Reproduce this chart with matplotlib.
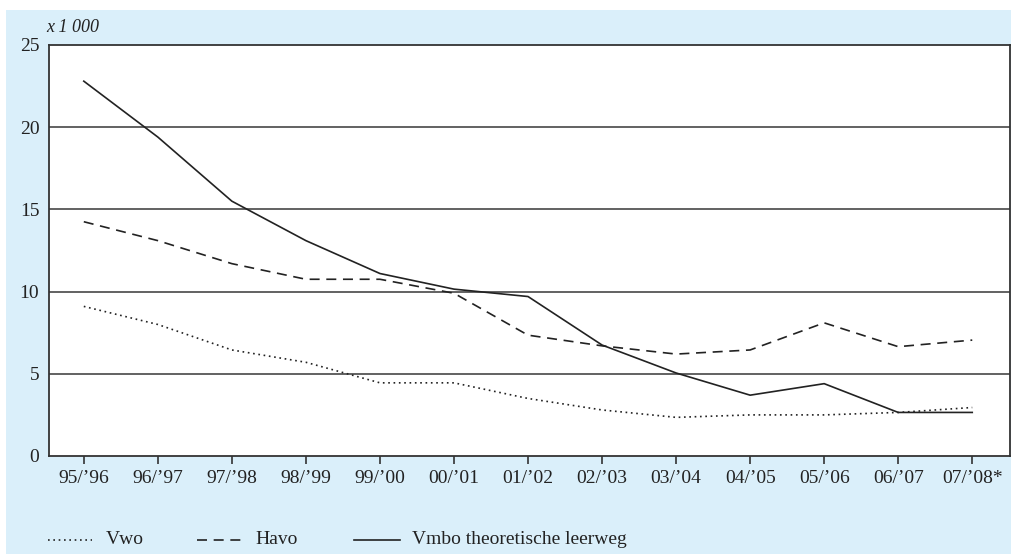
import matplotlib
matplotlib.use("Agg")
import matplotlib.pyplot as plt
from matplotlib.lines import Line2D
from matplotlib.patches import Rectangle

years = ["95/\u201996", "96/\u201997", "97/\u201998", "98/\u201999", "99/\u201900", "00/\u201901",
         "01/\u201902", "02/\u201903", "03/\u201904", "04/\u201905", "05/\u201906", "06/\u201907",
         "07/\u201908*"]
vwo = [9.1, 8.0, 6.45, 5.7, 4.45, 4.45, 3.5, 2.8, 2.35, 2.5, 2.5, 2.65, 2.95]
havo = [14.25, 13.1, 11.7, 10.75, 10.75, 9.9, 7.35, 6.7, 6.2, 6.45, 8.1, 6.65, 7.05]
vmbo = [22.8, 19.4, 15.5, 13.1, 11.1, 10.15, 9.7, 6.75, 5.05, 3.7, 4.4, 2.65, 2.65]
yticks = [0, 5, 10, 15, 20, 25]
series_names = ["Vwo", "Havo", "Vmbo theoretische leerweg"]

plt.rcParams["font.family"] = ["Liberation Serif", "DejaVu Serif"]
W, H = 1011, 554
fig = plt.figure(figsize=(W / 100, H / 100), dpi=100)
fig.patch.set_facecolor("white")
bg = "#daeffa"
fig.add_artist(Rectangle((6 / W, 0), 1 - 6 / W, (H - 10) / H, transform=fig.transFigure,
                         facecolor=bg, edgecolor="none", zorder=0))

ax = fig.add_axes([49 / W, (H - 456) / H, 961 / W, 411 / H])
ax.set_facecolor("white")
x = list(range(len(years)))
lc = "#222222"
ax.plot(x, vwo, color=lc, lw=1.2, linestyle=(0, (1, 2.2)), zorder=3)
ax.plot(x, havo, color=lc, lw=1.2, linestyle=(0, (6, 4)), zorder=3)
ax.plot(x, vmbo, color=lc, lw=1.2, linestyle="-", zorder=3)

ax.set_xlim(-0.47, 12.51)
ax.set_ylim(0, 25)
ax.set_yticks(yticks)
ax.set_yticklabels([str(v) for v in yticks], fontsize=14, color="#222222")
ax.tick_params(axis="y", length=0, pad=7)
ax.set_xticks(x)
ax.set_xticklabels(years, fontsize=14, color="#222222")
ax.tick_params(axis="x", direction="out", length=6, width=1.2, color="#333333", pad=4)
for v in yticks[1:-1]:
    ax.axhline(v, color="#555555", lw=1.3, zorder=1)
for s in ax.spines.values():
    s.set_color("#333333")
    s.set_linewidth(1.3)

fig.text(46 / W, 1 - 28 / H, "x 1 000", fontsize=13, style="italic", color="#222222",
         va="center", ha="left")

# legend
ly = 1 - 540 / H
items = [((48, 92), (0, (1, 2.2)), 106), ((197, 241), (0, (6, 4)), 255), ((354, 400), "-", 412)]
for (x0, x1), ls, tx in zip([i[0] for i in items], [i[1] for i in items], [i[2] for i in items]):
    pass
for ((x0, x1), ls, tx), name in zip(items, series_names):
    fig.add_artist(Line2D([x0 / W, x1 / W], [ly, ly], transform=fig.transFigure,
                          color=lc, lw=1.2, linestyle=ls))
    fig.text(tx / W, ly, name, fontsize=14, color="#222222", va="center", ha="left")

fig.savefig("out.png", dpi=100, facecolor="white")
